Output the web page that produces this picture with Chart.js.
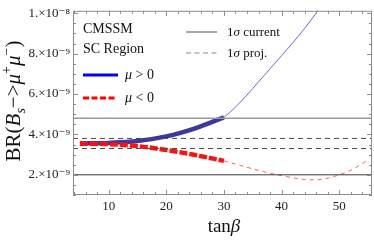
<!DOCTYPE html>
<html>
<head>
<meta charset="utf-8">
<script src="https://cdn.jsdelivr.net/npm/chart.js@4.4.1/dist/chart.umd.min.js"></script>
<style>
  html, body { margin: 0; padding: 0; background: #fff; }
</style>
</head>
<body>
<canvas id="c" width="374" height="242"></canvas>
<script>
// values in units of 1e-9
const tanBetaLow = [5, 10, 15, 20, 25, 30];
const muPosLow = [3.55, 3.58, 3.67, 3.9, 4.3, 4.84];
const muNegLow = [3.55, 3.52, 3.42, 3.23, 2.98, 2.69];

const tanBetaPosHigh = [30, 32, 34, 36, 38, 40, 42, 44, 46, 48];
const muPosHigh = [4.84, 5.35, 5.95, 6.6, 7.25, 7.9, 8.55, 9.25, 10.0, 10.8];

const tanBetaNegHigh = [30, 33, 36, 38, 40, 42, 44, 45, 46, 48, 50, 52, 54, 55];
const muNegHigh = [2.69, 2.45, 2.22, 2.08, 1.96, 1.85, 1.77, 1.75, 1.75, 1.83, 2.0, 2.22, 2.55, 2.75];

const currentBand = [2.0, 4.8];   // 1 sigma current
const projBand = [3.3, 3.8];      // 1 sigma projected

const xTickLabels = [10, 20, 30, 40, 50];
const yTickLabels = [2, 4, 6, 8, 10];

const X_MIN = 3.8, X_MAX = 55.7, Y_MIN = 1.0, Y_MAX = 10.12;
const SERIF = '"Liberation Serif", "DejaVu Serif", serif';

const pts = (xs, ys) => xs.map((x, i) => ({ x: x, y: ys[i] }));
const hline = v => [{ x: X_MIN, y: v }, { x: X_MAX, y: v }];

function yLabel(v) {
  if (v === 10) return '1.×10⁻⁸';
  return v + '.×10⁻⁹';
}

// inward ticks on all four sides plus the frame
const frame = {
  id: 'frame',
  afterDraw(chart) {
    const { ctx, chartArea: a, scales: { x, y } } = chart;
    ctx.save();
    ctx.strokeStyle = '#8c8c8c';
    ctx.lineWidth = 1;
    ctx.strokeRect(a.left + 0.5, a.top + 0.5, a.right - a.left - 1, a.bottom - a.top - 1);
    x.ticks.forEach(t => {
      const px = Math.round(x.getPixelForValue(t.value)) + 0.5;
      const len = xTickLabels.includes(t.value) ? 5 : 3;
      ctx.beginPath();
      ctx.moveTo(px, a.bottom); ctx.lineTo(px, a.bottom - len);
      ctx.moveTo(px, a.top); ctx.lineTo(px, a.top + len);
      ctx.stroke();
    });
    y.ticks.forEach(t => {
      const py = Math.round(y.getPixelForValue(t.value)) + 0.5;
      const len = yTickLabels.includes(t.value) ? 5 : 3;
      ctx.beginPath();
      ctx.moveTo(a.left, py); ctx.lineTo(a.left + len, py);
      ctx.moveTo(a.right, py); ctx.lineTo(a.right - len, py);
      ctx.stroke();
    });
    ctx.restore();
  }
};

function runs(ctx, parts, x, y) {
  // parts: [text, font, dy]
  parts.forEach(p => {
    ctx.font = p[1];
    ctx.fillText(p[0], x, y + (p[2] || 0));
    x += ctx.measureText(p[0]).width;
  });
  return x;
}

const labels = {
  id: 'labels',
  afterDraw(chart) {
    const ctx = chart.ctx;
    ctx.save();
    ctx.fillStyle = '#111';
    ctx.textBaseline = 'alphabetic';
    ctx.textAlign = 'left';

    // y axis title, rotated
    const big = '21px ' + SERIF, bigI = 'italic 21px ' + SERIF;
    const sm = '14px ' + SERIF, smI = 'italic 14px ' + SERIF;
    const yParts = [['BR(', big], ['B', bigI], ['s', smI, 5], ['−>', big], ['μ', bigI], ['+', sm, -9], ['μ', bigI], ['−', sm, -9], [')', big]];
    let w = 0;
    yParts.forEach(p => { ctx.font = p[1]; w += ctx.measureText(p[0]).width; });
    ctx.save();
    ctx.translate(20, 101);
    ctx.rotate(-Math.PI / 2);
    runs(ctx, yParts, -w / 2, 0);
    ctx.restore();

    // x axis title
    const xParts = [['tan', '19px ' + SERIF], ['β', 'italic 19px ' + SERIF]];
    let xw = 0;
    xParts.forEach(p => { ctx.font = p[1]; xw += ctx.measureText(p[0]).width; });
    runs(ctx, xParts, 224 - xw / 2, 232);

    // legend block, left
    const f = '14px ' + SERIF, fI = 'italic 14px ' + SERIF;
    runs(ctx, [['CMSSM', f]], 83, 33);
    runs(ctx, [['SC Region', f]], 83, 53);

    ctx.lineWidth = 3;
    ctx.strokeStyle = '#0000ff';
    ctx.beginPath(); ctx.moveTo(83, 75); ctx.lineTo(118, 75); ctx.stroke();
    runs(ctx, [['μ', fI], [' > 0', f]], 125, 79);

    ctx.strokeStyle = '#ff0000';
    ctx.setLineDash([6, 2.5]);
    ctx.beginPath(); ctx.moveTo(83, 98); ctx.lineTo(116, 98); ctx.stroke();
    runs(ctx, [['μ', fI], [' < 0', f]], 125, 102);

    // legend block, right
    const g = '13px ' + SERIF, gI = 'italic 13px ' + SERIF;
    ctx.lineWidth = 1.5;
    ctx.strokeStyle = '#8a8a8a';
    ctx.setLineDash([]);
    ctx.beginPath(); ctx.moveTo(186, 32); ctx.lineTo(217, 32); ctx.stroke();
    ctx.setLineDash([5, 3.5]);
    ctx.lineWidth = 1;
    ctx.beginPath(); ctx.moveTo(186, 53); ctx.lineTo(217, 53); ctx.stroke();
    runs(ctx, [['1', g], ['σ', gI], [' current', g]], 227, 35.5);
    runs(ctx, [['1', g], ['σ', gI], [' proj.', g]], 227, 56.5);
    ctx.restore();
  }
};

const line = (data, color, width, dash) => ({
  data: data,
  borderColor: color,
  borderWidth: width,
  borderDash: dash || [],
  pointRadius: 0,
  fill: false,
  tension: 0.4,
  cubicInterpolationMode: 'monotone'
});

new Chart(document.getElementById('c'), {
  type: 'line',
  data: {
    datasets: [
      line(hline(currentBand[1]), '#9a9a9a', 1.6),
      line(hline(currentBand[0]), '#3a3a3a', 1),
      line(hline(projBand[1]), '#4a4a4a', 1, [5, 4]),
      line(hline(projBand[0]), '#4a4a4a', 1, [5, 4]),
      line(pts(tanBetaPosHigh, muPosHigh), '#6b6bd6', 1),
      line(pts(tanBetaNegHigh, muNegHigh), '#ff5a5a', 1, [4, 4]),
      line(pts(tanBetaLow, muNegLow), '#ff1010', 4.5, [8, 2]),
      line(pts(tanBetaLow, muPosLow), '#3a3a9c', 4.5)
    ]
  },
  options: {
    responsive: false,
    animation: false,
    layout: { padding: { top: 10, right: 2, left: 0, bottom: 0 } },
    plugins: { legend: { display: false }, tooltip: { enabled: false } },
    scales: {
      x: {
        type: 'linear',
        min: X_MIN, max: X_MAX,
        afterFit: s => { s.height = 47; },
        afterBuildTicks: s => {
          const t = [];
          for (let v = 4; v <= 54; v += 2) t.push({ value: v });
          s.ticks = t;
        },
        grid: { display: false, drawTicks: false },
        border: { display: false },
        ticks: {
          autoSkip: false, maxRotation: 0, padding: 4,
          color: '#222', font: { family: SERIF, size: 13 },
          callback: v => xTickLabels.includes(v) ? String(v) : ''
        }
      },
      y: {
        type: 'linear',
        min: Y_MIN, max: Y_MAX,
        afterFit: s => { s.width = 73; },
        afterBuildTicks: s => {
          const t = [];
          for (let v = 1; v <= 10.001; v += 0.5) t.push({ value: Math.round(v * 10) / 10 });
          s.ticks = t;
        },
        grid: { display: false, drawTicks: false },
        border: { display: false },
        ticks: {
          autoSkip: false, padding: 3,
          color: '#222', font: { family: SERIF, size: 13 },
          callback: v => yTickLabels.includes(v) ? yLabel(v) : ''
        }
      }
    }
  },
  plugins: [frame, labels]
});
</script>
</body>
</html>
